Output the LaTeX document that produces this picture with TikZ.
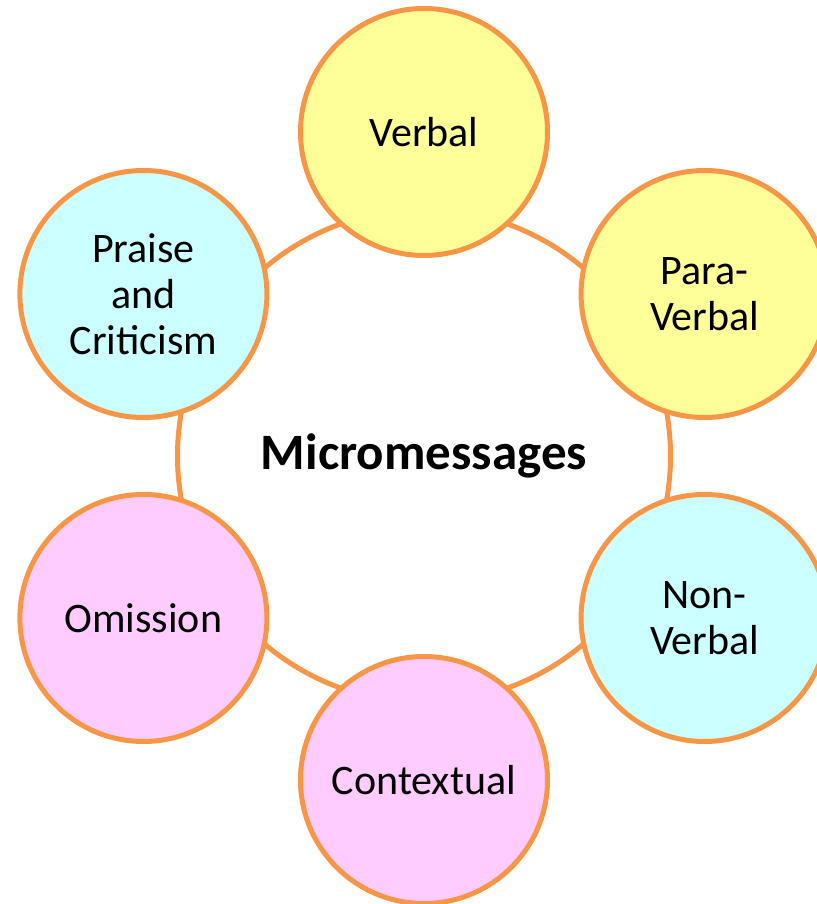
\documentclass[tikz,border=0pt]{standalone}
\usepackage{fontspec}
\setmainfont{Carlito}
\usepackage{tikz}
\usetikzlibrary{positioning,shapes}

\definecolor{ringorange}{HTML}{F79646}
\definecolor{bubyellow}{HTML}{FFFF99}
\definecolor{bubcyan}{HTML}{CCFFFF}
\definecolor{bubpink}{HTML}{FFCCFF}

\tikzset{bubble/.style={circle, draw=ringorange, line width=5pt, minimum size=247pt, inner sep=0pt, align=center}}

\begin{document}
\begin{tikzpicture}[x=1pt, y=1pt, font=\fontsize{42}{46}\selectfont]
    \useasboundingbox (-424,-448) rectangle (392,456);
    \node[circle, draw=ringorange, line width=5pt, minimum size=493pt, font=\fontsize{51}{58}\selectfont\bfseries] (micro) {Micromessages};
    \node[bubble, fill=bubyellow] (verbal) at (90:324pt) {Verbal};
    \node[bubble, fill=bubyellow] (paraverbal) at (30:324pt) {Para-\\Verbal};
    \node[bubble, fill=bubcyan] (nonverbal) at (-30:324pt) {Non-\\Verbal};
    \node[bubble, fill=bubpink] (contextual) at (-90:324pt) {Contextual};
    \node[bubble, fill=bubpink] (omission) at (210:324pt) {Omission};
    \node[bubble, fill=bubcyan] (praise) at (150:324pt) {Praise\\and\\Criticism};
\end{tikzpicture}
\end{document}
